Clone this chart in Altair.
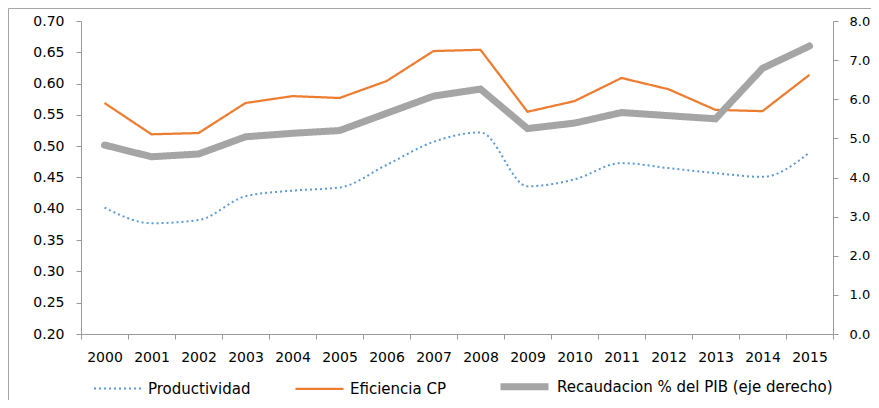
import altair as alt
import pandas as pd

years = ["2000", "2001", "2002", "2003", "2004", "2005", "2006", "2007",
         "2008", "2009", "2010", "2011", "2012", "2013", "2014", "2015"]
productividad = [0.402, 0.377, 0.382, 0.420, 0.429, 0.434, 0.470, 0.507,
                 0.522, 0.436, 0.447, 0.473, 0.465, 0.457, 0.451, 0.490]
eficiencia = [0.569, 0.519, 0.521, 0.569, 0.580, 0.577, 0.604, 0.652,
              0.654, 0.555, 0.572, 0.609, 0.591, 0.558, 0.556, 0.614]
recaudacion = [4.83, 4.53, 4.60, 5.04, 5.13, 5.20, 5.64, 6.08,
               6.26, 5.25, 5.39, 5.66, 5.58, 5.50, 6.79, 7.36]
series_names = ["Productividad", "Eficiencia CP", "Recaudacion % del PIB (eje derecho)"]
colors = ["#5B9BD5", "#ED7D31", "#A5A5A5"]

rows = []
for name, vals in zip(series_names, [productividad, eficiencia, recaudacion]):
    for y, v in zip(years, vals):
        rows.append({"year": y, "series": name, "value": v})
df = pd.DataFrame(rows)

FONT = "DejaVu Sans"
AX = "#999999"

legend = alt.Legend(
    orient="none", legendX=12, legendY=338, direction="horizontal", title=None,
    symbolType="stroke", symbolSize=2304, labelFont=FONT, labelFontSize=15,
    labelColor="#000000", labelOffset=5, columnPadding=40, labelLimit=500,
)

xenc = alt.X(
    "year:N", sort=years, bandPosition=0.5,
    scale=alt.Scale(type="band", paddingInner=0, paddingOuter=0),
    axis=alt.Axis(title=None, labelAngle=0, tickBand="extent", labelPadding=11),
)
color = alt.Color("series:N", scale=alt.Scale(domain=series_names, range=colors), legend=legend)
dash = alt.StrokeDash("series:N", scale=alt.Scale(domain=series_names, range=[[2, 3], [1, 0], [1, 0]]), legend=legend)
width = alt.StrokeWidth("series:O", scale=alt.Scale(type="ordinal", domain=series_names, range=[2, 2.25, 7]), legend=legend)

yleft = alt.Y("value:Q", scale=alt.Scale(domain=[0.2, 0.7], nice=False, zero=False),
              axis=alt.Axis(title=None, format=".2f", values=[0.2, 0.25, 0.3, 0.35, 0.4, 0.45, 0.5, 0.55, 0.6, 0.65, 0.7],
                            orient="left", labelPadding=12))
yright = alt.Y("value:Q", scale=alt.Scale(domain=[0, 8], nice=False),
               axis=alt.Axis(title=None, format=".1f", values=[0, 1, 2, 3, 4, 5, 6, 7, 8],
                             orient="right", labelPadding=11, labelFontSize=13))

base = alt.Chart(df)
blue = base.transform_filter(alt.datum.series == series_names[0]).mark_line(interpolate="monotone").encode(
    x=xenc, y=yleft, color=color, strokeDash=dash, strokeWidth=width)
orange = base.transform_filter(alt.datum.series == series_names[1]).mark_line().encode(
    x=xenc, y=yleft, color=color, strokeDash=dash, strokeWidth=width)
gray = base.transform_filter(alt.datum.series == series_names[2]).mark_line(strokeCap="round").encode(
    x=xenc, y=yright, color=color, strokeDash=dash, strokeWidth=width)

frame = alt.Chart(alt.Data(values=[{"f": 1}])).mark_rect(
    fill=None, stroke="#A6A6A6", strokeWidth=1, fillOpacity=0).encode(
    x=alt.value(-72.5), x2=alt.value(820), y=alt.value(-12.5), y2=alt.value(450))

chart = alt.layer(alt.layer(blue, orange), gray, frame).resolve_scale(y="independent").properties(
    width=752, height=313, autosize="none",
    padding={"left": 73, "top": 13, "right": 38, "bottom": 66},
).configure_view(stroke=None).configure_axis(
    labelFont=FONT, labelFontSize=14, labelColor="#000000", domainColor=AX, tickColor=AX,
    tickSize=5, grid=False, domainWidth=1, tickWidth=1,
)

chart.save("out.html", embed_options={"renderer": "svg", "actions": False})
